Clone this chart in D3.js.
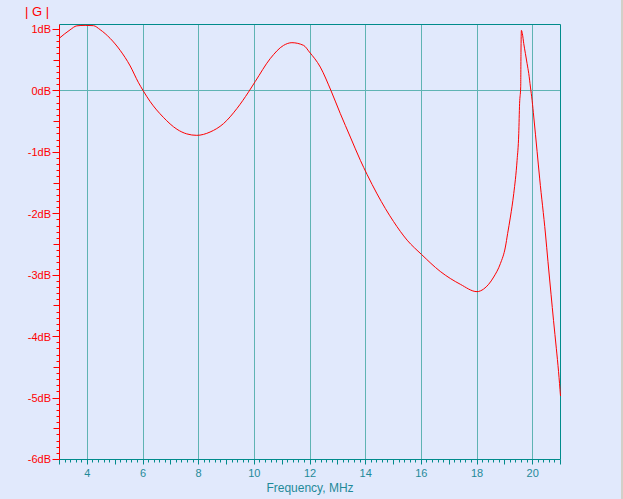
<!DOCTYPE html>
<html><head><meta charset="utf-8">
<script src="https://cdn.jsdelivr.net/npm/d3@7"></script>
<style>
html,body{margin:0;padding:0;background:#e1e9fc;}
svg{display:block;}
text{font-family:"Liberation Sans",Arial,sans-serif;}
</style></head>
<body><svg id="c" width="623" height="499"></svg>
<script>
// ---- data ----
const freqMHz = [3.0,3.38,3.62,3.92,4.22,4.46,4.82,5.18,5.54,5.83,6.01,6.25,6.73,7.22,7.57,7.93,8.41,8.89,9.37,9.79,10.03,10.57,11.05,11.35,11.77,11.98,12.37,12.75,13.09,13.45,13.81,14.05,14.41,14.71,15.0,15.49,16.01,16.68,17.4,18.0,18.24,18.6,18.84,19.02,19.1,19.2,19.32,19.44,19.5,19.53,19.57,19.58,19.595,19.63,19.68,19.74,19.8,19.86,19.92,19.98,20.04,20.16,20.25,20.46,20.55,20.66,20.75,20.85,20.93,21.0];
const gainDB = [0.859,0.993,1.058,1.066,1.061,0.996,0.854,0.659,0.405,0.14,0.0,-0.17,-0.43,-0.625,-0.7,-0.724,-0.67,-0.534,-0.29,-0.02,0.15,0.524,0.74,0.784,0.74,0.631,0.387,0.008,-0.371,-0.752,-1.131,-1.36,-1.677,-1.917,-2.126,-2.43,-2.664,-2.939,-3.148,-3.268,-3.225,-3.03,-2.812,-2.542,-2.324,-2.054,-1.673,-1.131,-0.697,-0.208,0.062,0.62,0.985,0.931,0.768,0.605,0.443,0.28,0.062,-0.155,-0.426,-0.99,-1.42,-2.33,-2.78,-3.31,-3.74,-4.19,-4.57,-4.967];
const yTickValues = [1,0,-1,-2,-3,-4,-5,-6];
const yTickLabels = ["1dB","0dB","-1dB","-2dB","-3dB","-4dB","-5dB","-6dB"];
const xTickValues = [4,6,8,10,12,14,16,18,20];
const xTickLabels = ["4","6","8","10","12","14","16","18","20"];
const titleText = "| G |";
const xAxisTitle = "Frequency, MHz";

// ---- chart ----
const svg = d3.select("#c");
const L=59.5, R=560.5, T=24.5, B=459.5;
const x = d3.scaleLinear().domain([3,21]).range([L,R]);
const y = d3.scaleLinear().domain([-6,1.08]).range([B,T]);
const px = v => Math.round(x(v)-0.5)+0.5;
const py = v => Math.round(y(v)-0.5)+0.5;
const gridC="#5fb3b3", axisC="#008b8b", red="#ff0000";

svg.append("rect").attr("x",621).attr("y",0).attr("width",2).attr("height",499).attr("fill","#d2d0c8");

// grid
svg.selectAll(".vg").data(xTickValues).join("line")
  .attr("x1",d=>px(d)).attr("x2",d=>px(d)).attr("y1",T).attr("y2",B)
  .attr("stroke",gridC).attr("stroke-width",1);
svg.append("line").attr("x1",L).attr("x2",R).attr("y1",py(0)).attr("y2",py(0))
  .attr("stroke",gridC).attr("stroke-width",1);

// frame
svg.append("line").attr("x1",L).attr("x2",R).attr("y1",T).attr("y2",T).attr("stroke",axisC);
svg.append("line").attr("x1",R).attr("x2",R).attr("y1",T).attr("y2",B).attr("stroke",axisC);

// x axis ticks
const xMinor = d3.range(15,106).map(i=>i/5);
svg.selectAll(".xt").data(xMinor).join("line")
  .attr("x1",d=>px(d)).attr("x2",d=>px(d)).attr("y1",B)
  .attr("y2",d=> Math.abs(d-Math.round(d))<1e-6 ? B+5 : B+3)
  .attr("stroke",axisC);
svg.append("line").attr("x1",L).attr("x2",R).attr("y1",B).attr("y2",B).attr("stroke",axisC);
svg.selectAll(".xl").data(xTickValues).join("text")
  .attr("x",d=>x(d)).attr("y",477).attr("text-anchor","middle")
  .attr("font-size",11).attr("fill","#1f8a99").text((d,i)=>xTickLabels[i]);
svg.append("text").attr("x",310).attr("y",492).attr("text-anchor","middle")
  .attr("font-size",12).attr("fill","#1f8a99").text(xAxisTitle);

// y axis ticks
const yMinor = d3.range(-60,11).map(i=>i/10);
svg.selectAll(".yt").data(yMinor).join("line")
  .attr("y1",d=>py(d)).attr("y2",d=>py(d)).attr("x2",L)
  .attr("x1",d=>{const r=Math.round(d*10); return r%10===0 ? L-7 : (Math.abs(r%10)===5 ? L-6 : L-3);})
  .attr("stroke",red);
svg.append("line").attr("x1",L).attr("x2",L).attr("y1",T).attr("y2",B).attr("stroke",red);
svg.selectAll(".yl").data(yTickValues).join("text")
  .attr("x",51).attr("y",d=>y(d)).attr("dy","0.36em").attr("text-anchor","end")
  .attr("font-size",11).attr("fill",red).text((d,i)=>yTickLabels[i]);
svg.append("text").attr("x",25).attr("y",16).attr("font-size",13).attr("fill",red)
  .attr("xml:space","preserve").style("white-space","pre").text(titleText);

// curve
const pts = freqMHz.map((f,i)=>[f,gainDB[i]]);
svg.append("path").datum(pts)
  .attr("d", d3.line().x(d=>x(d[0])).y(d=>y(d[1])).curve(d3.curveMonotoneX))
  .attr("fill","none").attr("stroke",red).attr("stroke-width",1);
</script></body></html>
